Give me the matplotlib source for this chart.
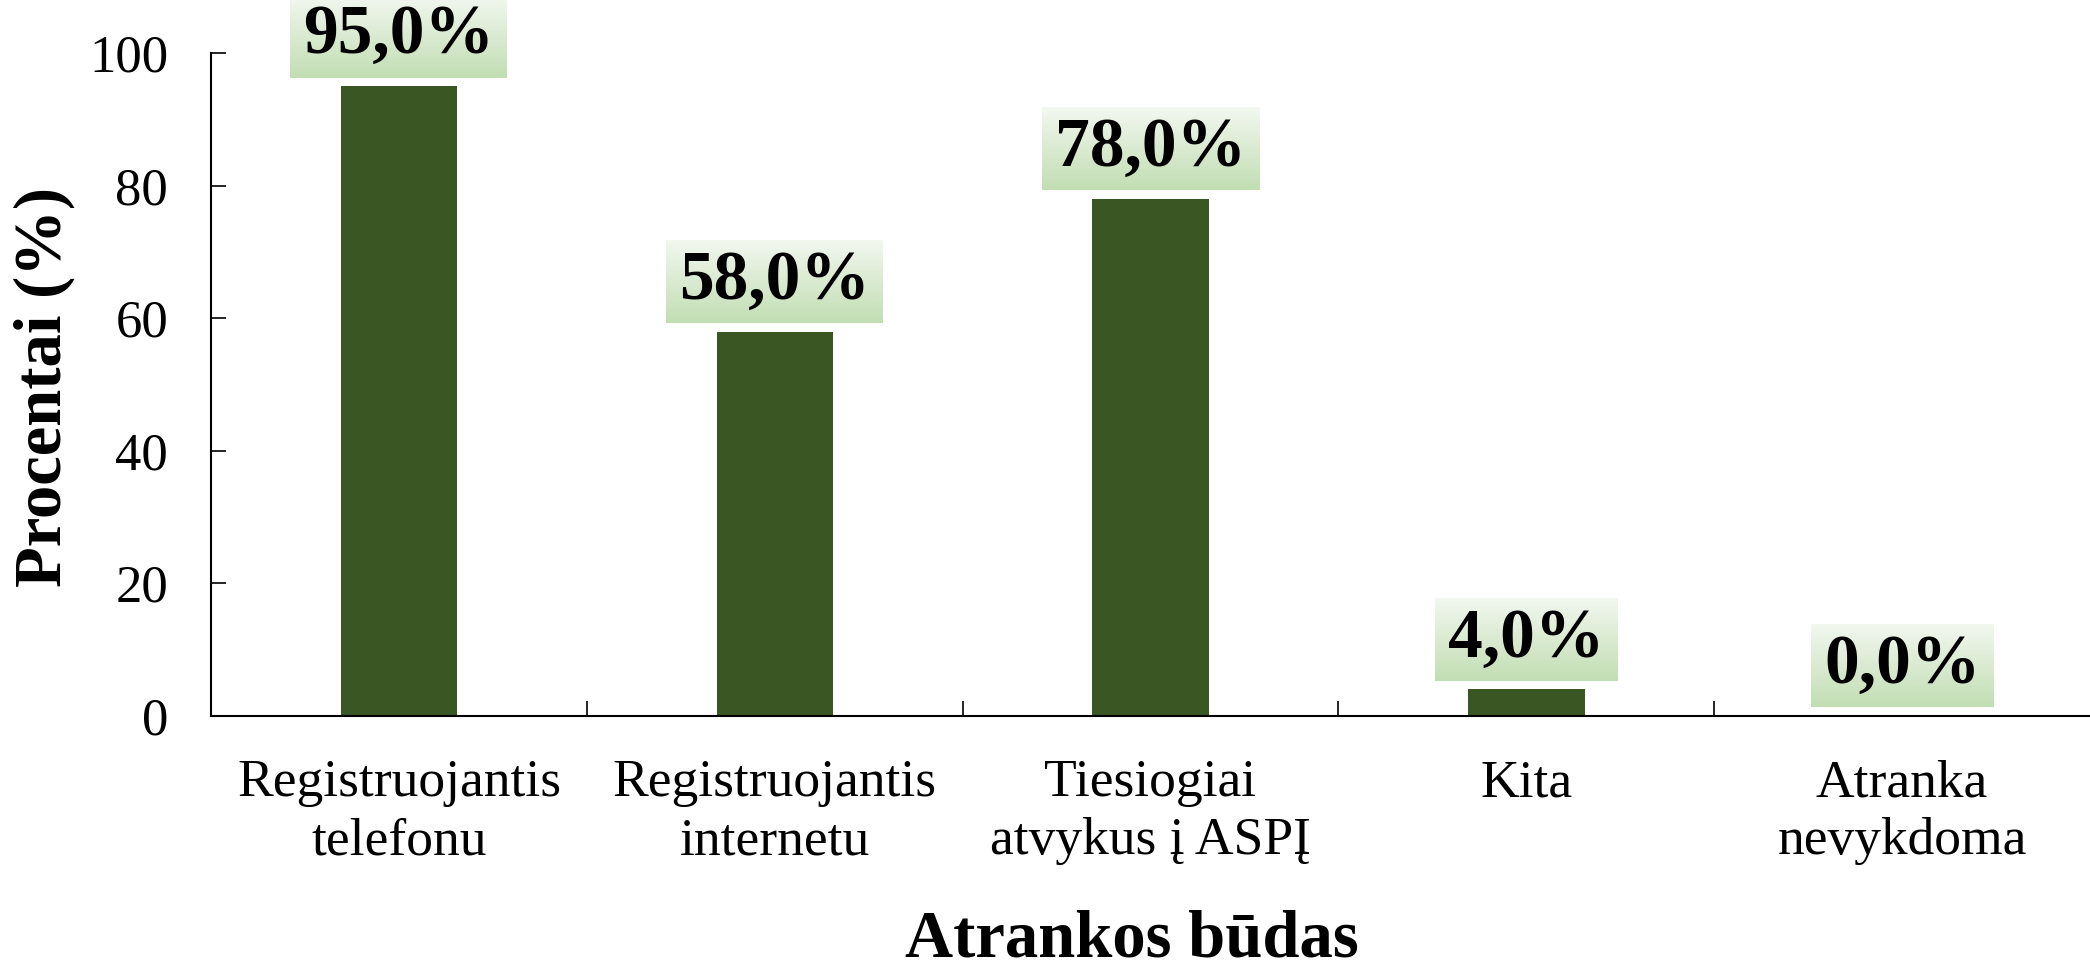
import numpy as np
import matplotlib.pyplot as plt
from matplotlib.image import BboxImage
from matplotlib.transforms import Bbox

categories = ['Registruojantis\ntelefonu', 'Registruojantis\ninternetu',
              'Tiesiogiai\natvykus į ASPĮ', 'Kita', 'Atranka\nnevykdoma']
values = [95.0, 58.0, 78.0, 4.0, 0.0]
yticks = [0, 20, 40, 60, 80, 100]
labels = [f'{v:.1f}%'.replace('.', ',') for v in values]

plt.rcParams['font.family'] = ['Liberation Serif', 'DejaVu Serif']

fig = plt.figure(figsize=(20.9, 9.67), dpi=100)
ax = fig.add_axes([0.101, 0.2596, 0.899, 0.6854])

x = np.arange(len(values))
ax.bar(x, values, width=0.31, color='#3a5723', zorder=2)
ax.set_xlim(-0.5, len(values) - 0.5)
ax.set_ylim(0, 100)

for s in ['top', 'right']:
    ax.spines[s].set_visible(False)
for s in ['left', 'bottom']:
    ax.spines[s].set_linewidth(1.5)

ax.set_yticks(yticks)
ax.tick_params(axis='y', direction='in', length=11, width=1.2, labelsize=38, pad=31)

# boundaries between categories get the ticks, centres get the labels
ax.set_xticks(x[:-1] + 0.5)
ax.set_xticklabels([])
ax.tick_params(axis='x', which='major', direction='in', length=11, width=1.2)
ax.set_xticks(x, minor=True)
ax.set_xticklabels(categories, minor=True, fontsize=38.5, linespacing=1.27)
ax.tick_params(axis='x', which='minor', length=0, pad=31)

fig.text(0.021, 0.6, 'Procentai (%)', rotation=90, ha='center', va='center',
         fontsize=48, fontweight='bold')
fig.text(0.5416, 0.0105, 'Atrankos būdas', ha='center', va='baseline',
         fontsize=48, fontweight='bold')

texts = []
for i, (v, lab) in enumerate(zip(values, labels)):
    t = ax.annotate(lab, xy=(i, v), xytext=(0, 36), textcoords='offset points',
                    ha='center', va='center', fontsize=50, fontweight='bold',
                    annotation_clip=False, zorder=6)
    texts.append(t)

fig.canvas.draw()
renderer = fig.canvas.get_renderer()

top = np.array([0.95, 0.97, 0.94])
bot = np.array([0.76, 0.87, 0.70])
ramp = np.linspace(0, 1, 64)[:, None]
grad = (top * (1 - ramp) + bot * ramp)[:, None, :]

for t in texts:
    bb = t.get_window_extent(renderer)
    cy = (bb.y0 + bb.y1) / 2
    box = Bbox.from_extents(bb.x0 - 13, cy - 41.5, bb.x1 + 13, cy + 41.5)
    im = BboxImage(box, interpolation='bilinear', zorder=5)
    im.set_data(grad)
    ax.add_artist(im)
    im.set_clip_on(False)

fig.savefig('out.png', dpi=100)
